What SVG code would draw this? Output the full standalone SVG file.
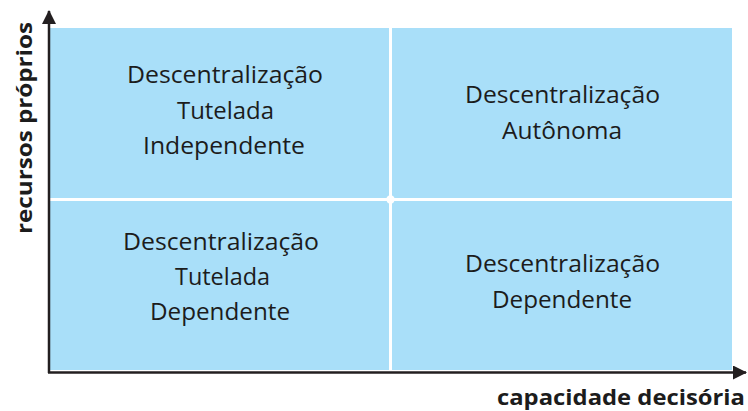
<svg xmlns="http://www.w3.org/2000/svg" width="748" height="411" viewBox="0 0 748 411">
<style>
.q{fill:#a9dff9}
.t{font-family:"Open Sans","Liberation Sans",sans-serif;font-size:24px;fill:#1c1c1c;text-anchor:middle}
.ax{font-family:"Open Sans","Liberation Sans",sans-serif;font-weight:bold;fill:#1c1c1c}
.axis{stroke:#231f20;stroke-width:2.5;fill:none}
</style>
<defs>
<marker id="arr" viewBox="0 0 14 14" refX="13" refY="7" markerWidth="14" markerHeight="14" markerUnits="userSpaceOnUse" orient="auto">
<path d="M0,0 L14,7 L0,14 Z" fill="#231f20"/>
</marker>
</defs>
<g id="q-tl">
<rect class="q" x="50" y="28" width="339" height="170"/>
<text class="t" x="225" y="83" textLength="196" lengthAdjust="spacingAndGlyphs">Descentralização</text>
<text class="t" x="225.5" y="118.5" textLength="97" lengthAdjust="spacingAndGlyphs">Tutelada</text>
<text class="t" x="224" y="154" textLength="162" lengthAdjust="spacingAndGlyphs">Independente</text>
</g>
<g id="q-tr">
<rect class="q" x="392" y="28" width="340" height="170"/>
<text class="t" x="562.5" y="103" textLength="195" lengthAdjust="spacingAndGlyphs">Descentralização</text>
<text class="t" x="562" y="138.5" textLength="120" lengthAdjust="spacingAndGlyphs">Autônoma</text>
</g>
<g id="q-bl">
<rect class="q" x="50" y="201" width="339" height="169"/>
<text class="t" x="221" y="250" textLength="196" lengthAdjust="spacingAndGlyphs">Descentralização</text>
<text class="t" x="222.5" y="285" textLength="95" lengthAdjust="spacingAndGlyphs">Tutelada</text>
<text class="t" x="220" y="320" textLength="140" lengthAdjust="spacingAndGlyphs">Dependente</text>
</g>
<g id="q-br">
<rect class="q" x="392" y="201" width="340" height="169"/>
<text class="t" x="562.5" y="272" textLength="195" lengthAdjust="spacingAndGlyphs">Descentralização</text>
<text class="t" x="562" y="307.5" textLength="140" lengthAdjust="spacingAndGlyphs">Dependente</text>
</g>
<path id="center" d="M390.5,192 Q391.5,198.5 398,199.5 Q391.5,200.5 390.5,207 Q389.5,200.5 383,199.5 Q389.5,198.5 390.5,192 Z" fill="#ffffff"/>
<circle cx="390.5" cy="199.5" r="4.2" fill="#ffffff"/>
<g id="connectors">
<path class="axis" d="M49,373 L49,11" marker-end="url(#arr)"/>
<path class="axis" d="M48,372.5 L746,372.5" marker-end="url(#arr)"/>
</g>
<g id="axis-labels">
<text class="ax" font-size="21" x="745" y="405" text-anchor="end" textLength="248" lengthAdjust="spacingAndGlyphs">capacidade decisória</text>
<text class="ax" font-size="22" transform="translate(32,128) rotate(-90)" x="0" y="0" text-anchor="middle" textLength="212" lengthAdjust="spacingAndGlyphs">recursos próprios</text>
</g>
</svg>
